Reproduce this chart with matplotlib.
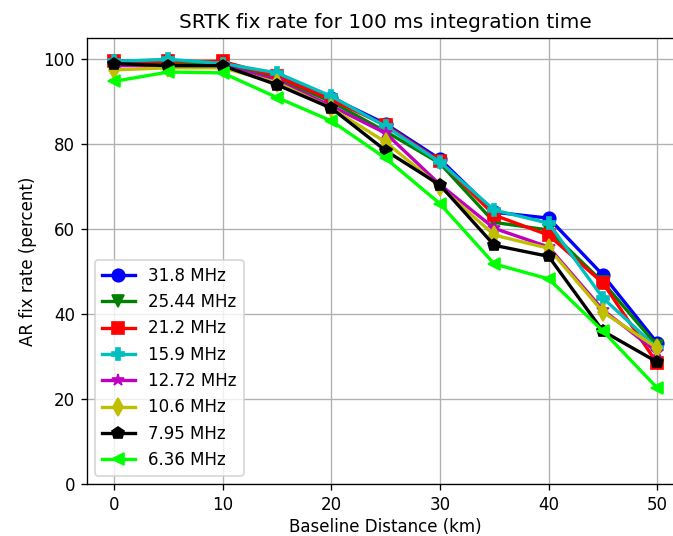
import numpy as np
import matplotlib
matplotlib.use('Agg')
import matplotlib.pyplot as plt

# Distancias de línea base (km)
baseline = [0, 5, 10, 15, 20, 25, 30, 35, 40, 45, 50]

# Tasa de fijación AR (%) por frecuencia de muestreo
fr_31_8 = [99.5, 99.8, 99.0, 96.0, 91.0, 84.8, 76.5, 64.0, 62.6, 49.2, 33.2]
fr_25_44 = [99.0, 99.0, 99.0, 95.5, 90.0, 83.0, 75.5, 61.6, 59.8, 47.5, 32.5]
fr_21_2 = [99.5, 99.5, 99.5, 96.0, 90.5, 84.5, 76.0, 63.3, 58.6, 47.3, 28.4]
fr_15_9 = [99.5, 100.0, 99.0, 96.8, 91.3, 84.2, 75.8, 64.5, 61.4, 43.8, 32.0]
fr_12_72 = [98.5, 98.5, 98.5, 95.0, 89.0, 82.6, 70.5, 60.2, 55.8, 41.0, 31.0]
fr_10_6 = [97.5, 98.0, 98.0, 94.5, 88.5, 80.5, 70.0, 58.6, 55.5, 40.5, 32.0]
fr_7_95 = [99.0, 98.5, 98.5, 94.0, 88.5, 78.5, 70.4, 56.2, 53.6, 36.0, 28.7]
fr_6_36 = [94.8, 97.0, 96.8, 91.0, 85.5, 76.7, 66.0, 51.8, 48.3, 36.0, 22.6]

series = [fr_31_8, fr_25_44, fr_21_2, fr_15_9, fr_12_72, fr_10_6, fr_7_95, fr_6_36]
etiquetas = ['31.8 MHz', '25.44 MHz', '21.2 MHz', '15.9 MHz',
             '12.72 MHz', '10.6 MHz', '7.95 MHz', '6.36 MHz']
colores = ['b', 'g', 'r', 'c', 'm', 'y', 'k', 'lime']
marcadores = ['o', 'v', 's', 'P', '*', 'd', 'p', '<']

# 673x536 px a 120 dpi
fig = plt.figure(figsize=(673 / 120, 536 / 120), dpi=120)
ax = fig.add_axes([0.129, 0.097, 0.888, 0.832])

for vals, lab, c, m in zip(series, etiquetas, colores, marcadores):
    ax.plot(baseline, vals, color=c, marker=m, linewidth=2, markersize=7.5, label=lab)

ax.set_xlim(-2.5, 52.5)
ax.set_ylim(0, 105)
ax.set_xticks([0, 10, 20, 30, 40, 50])
ax.set_yticks([0, 20, 40, 60, 80, 100])
ax.set_xlabel('Baseline Distance (km)', labelpad=2.5)
ax.set_ylabel('AR fix rate (percent)')
ax.set_title('SRTK fix rate for 100 ms integration time')
ax.grid(True)
ax.legend(loc='lower left')

plt.savefig('out.png', dpi=120)
